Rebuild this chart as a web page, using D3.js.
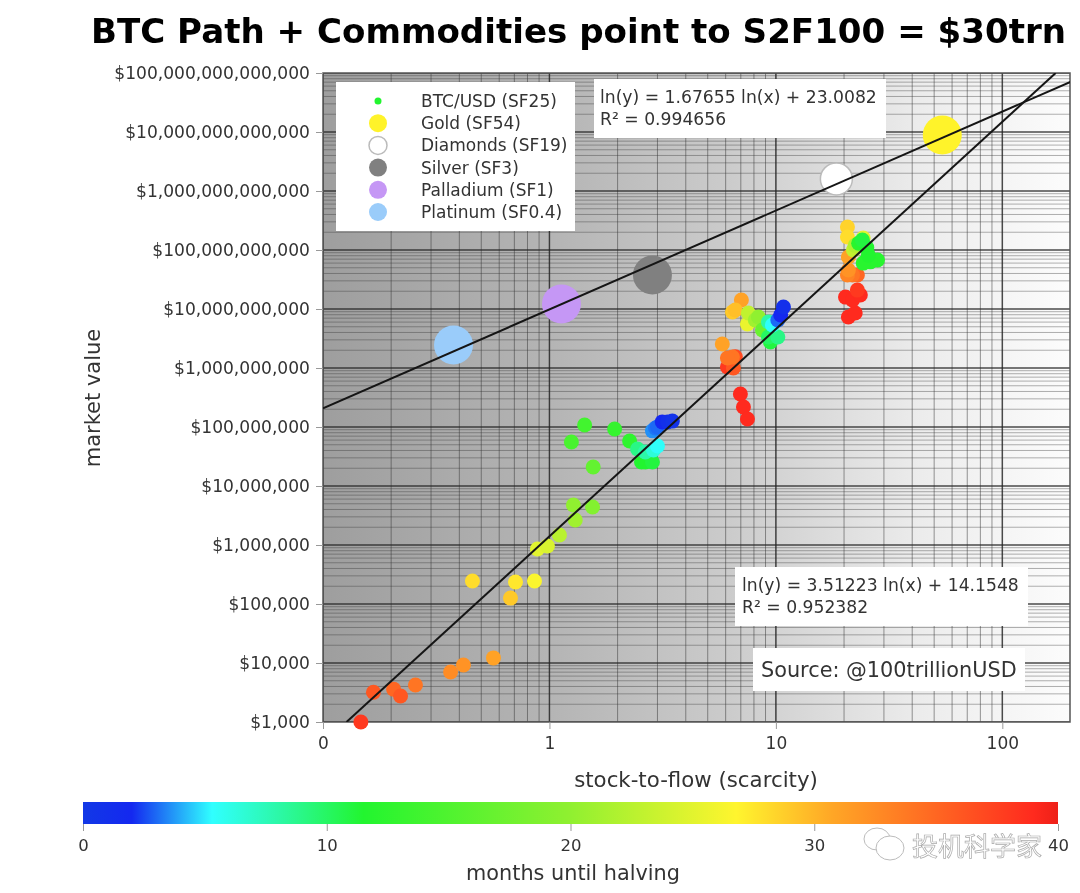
<!DOCTYPE html>
<html>
<head>
<meta charset="utf-8">
<script src="https://cdn.jsdelivr.net/npm/d3@7"></script>
<style>
  html, body { margin: 0; padding: 0; background: #fff; }
  text { font-family: "DejaVu Sans", sans-serif; fill: #333; }
</style>
</head>
<body>
<script>
// BTC points, oldest first (three halving eras)
var btcSf = [0.147, 0.167, 0.205, 0.22, 0.256, 0.366, 0.417, 0.566, 0.457, 0.673, 0.708, 0.859, 0.885, 0.98, 1.107, 1.3, 1.276, 1.55, 1.56, 1.25, 1.43, 1.94, 2.26, 2.55, 2.65, 2.85, 2.45, 2.65, 2.88, 3.0, 2.85, 2.94, 3.0, 3.15, 3.32, 3.49,
  6.97, 7.19, 7.49, 6.11, 6.62, 6.49, 6.43, 6.11, 5.8, 7.04, 6.43, 6.62, 7.49, 7.56, 8.11, 8.37, 8.72, 9.46, 9.27, 10.2, 9.27, 9.65, 10.2, 10.5, 10.8,
  20.9, 22.4, 20.3, 21.8, 23.6, 22.9, 22.9, 21.8, 20.7, 20.9, 20.9, 20.7, 20.7, 24.3, 22, 22.4, 28.1, 26.1, 24.3, 25.6, 25.2, 23.2, 24.1];
var btcValue = [1000, 3200, 3600, 2760, 4240, 7030, 9250, 12200, 245000, 126000, 236000, 245000, 855000, 962000, 1.48e6, 2.65e6, 4.77e6, 4.4e6, 2.1e7, 5.57e7, 1.08e8, 9.25e7, 5.8e7, 2.55e7, 2.55e7, 2.55e7, 4.24e7, 3.77e7, 4.07e7, 4.77e7, 8.6e7, 9.6e7, 1.0e8, 1.22e8, 1.22e8, 1.26e8,
  3.62e8, 2.18e8, 1.37e8, 1.04e9, 1.55e9, 1.0e9, 1.53e9, 1.48e9, 2.55e9, 1.42e10, 8.9e9, 9.6e9, 5.57e9, 8.55e9, 6.5e9, 7.3e9, 4.4e9, 2.76e9, 3.35e9, 3.35e9, 6.03e9, 5.36e9, 6.5e9, 7.9e9, 1.08e10,
  7.3e9, 8.55e9, 1.59e10, 1.42e10, 1.73e10, 2.09e10, 3.77e10, 3.77e10, 3.77e10, 4.57e10, 7.6e10, 2.45e11, 1.66e11, 1.59e11, 1.0e11, 1.2e11, 6.76e10, 6.3e10, 6e10, 8.2e10, 1.1e11, 1.3e11, 1.48e11];
var btcMonths = [38, 36, 35, 36, 34, 32.5, 32, 31, 28, 29, 27.5, 26.5, 25, 24.5, 22.5, 21, 20, 19, 16.5, 14.5, 14, 13, 12.5, 11.5, 11.5, 11, 9, 8, 6.5, 5.5, 3.6, 3.2, 3, 2, 1, 0.5,
  39, 39, 39, 38, 37, 36, 34, 34, 31, 31, 29, 29.5, 25.5, 23, 21, 20, 17, 11, 10, 9, 8, 5.5, 3, 2, 1,
  39, 39, 39, 39, 39, 38, 35, 34, 33, 32, 31, 28.5, 28, 25, 23, 22, 12, 12, 12, 11.5, 11.5, 12, 11];

var assetNames = ["Gold (SF54)", "Diamonds (SF19)", "Silver (SF3)", "Palladium (SF1)", "Platinum (SF0.4)"];
var assetSf = [54.3, 18.5, 2.85, 1.13, 0.377];
var assetValue = [8.9e12, 1.6e12, 3.77e10, 1.22e10, 2.45e9];
var assetColors = ["#fff32a", "#ffffff", "#808080", "#c597f5", "#9accfa"];

// fitted lines, end points worked out from the printed equations
var fitAssetsSf = [0.1, 200];
var fitAssetsValue = [2.07e8, 7.08e13];
var fitBtcSf = [0.127, 172];
var fitBtcValue = [1e3, 1e14];

var xTicks = [0.1, 1, 10, 100];
var xTickLabels = ["0", "1", "10", "100"];
var yTicks = [1e3, 1e4, 1e5, 1e6, 1e7, 1e8, 1e9, 1e10, 1e11, 1e12, 1e13, 1e14];
var barTicks = [0, 10, 20, 30, 40];
var barStops = [0, 2, 5.3, 8, 11.5, 20, 26.8, 30.7, 39, 40];
var barColors = ["#1238e6", "#1428f0", "#30ffff", "#2cf8a8", "#22f52f", "#90f030", "#fff52e", "#ffa726", "#ff2a1e", "#ee2018"];

var svg = d3.select("body").append("svg")
    .attr("width", 1080)
    .attr("height", 893)
    .style("display", "block")
    .style("filter", "blur(0.5px)");

var x = d3.scaleLog().domain([0.1, 199]).range([323, 1070]);
var y = d3.scaleLog().domain([1e3, 1e14]).range([722, 73]);
var color = d3.scaleLinear().domain(barStops).range(barColors);
var barX = d3.scaleLinear().domain([0, 40]).range([83, 1058]);

var defs = svg.append("defs");

var bg = defs.append("linearGradient").attr("id", "bg");
bg.selectAll("stop")
    .data([[0, "#9e9e9e"], [0.3, "#b4b4b4"], [0.55, "#cccccc"], [0.8, "#ececec"], [1, "#fcfcfc"]])
  .join("stop")
    .attr("offset", d => d[0])
    .attr("stop-color", d => d[1]);

var barGrad = defs.append("linearGradient").attr("id", "bar");
barGrad.selectAll("stop")
    .data(barStops)
  .join("stop")
    .attr("offset", d => d / 40)
    .attr("stop-color", d => color(d));

defs.append("clipPath").attr("id", "plot").append("rect")
    .attr("x", 323).attr("y", 73).attr("width", 747).attr("height", 649);

// title
svg.append("text")
    .attr("x", 91).attr("y", 43)
    .style("font-size", "34.1px")
    .style("font-weight", "bold")
    .style("fill", "#000")
    .text("BTC Path + Commodities point to S2F100 = $30trn");

// plot background + grid
svg.append("rect")
    .attr("x", 323).attr("y", 73).attr("width", 747).attr("height", 649)
    .attr("fill", "url(#bg)");

var grid = svg.append("g").attr("clip-path", "url(#plot)");

grid.selectAll(".vminor")
    .data(x.ticks(40))
  .join("line")
    .attr("x1", d => x(d)).attr("x2", d => x(d))
    .attr("y1", 73).attr("y2", 722)
    .attr("stroke", "#333")
    .attr("stroke-opacity", 0.5)
    .attr("stroke-width", 1);

grid.selectAll(".hminor")
    .data(y.ticks(120))
  .join("line")
    .attr("y1", d => y(d)).attr("y2", d => y(d))
    .attr("x1", 323).attr("x2", 1070)
    .attr("stroke", "#333")
    .attr("stroke-opacity", 0.38)
    .attr("stroke-width", 1);

grid.selectAll(".hmajor")
    .data(yTicks)
  .join("line")
    .attr("y1", d => y(d)).attr("y2", d => y(d))
    .attr("x1", 323).attr("x2", 1070)
    .attr("stroke", "#222")
    .attr("stroke-opacity", 0.7)
    .attr("stroke-width", 1.5);

grid.selectAll(".vmajor")
    .data(xTicks)
  .join("line")
    .attr("x1", d => x(d)).attr("x2", d => x(d))
    .attr("y1", 73).attr("y2", 722)
    .attr("stroke", "#222")
    .attr("stroke-opacity", 0.7)
    .attr("stroke-width", 1.5);

// frame
svg.append("rect")
    .attr("x", 323).attr("y", 73).attr("width", 747).attr("height", 649)
    .attr("fill", "none")
    .attr("stroke", "#555")
    .attr("stroke-width", 1.5);

// commodities sit under the fit lines, the lowest BTC dot hangs over the frame
var marks = svg.append("g");

marks.selectAll(".asset")
    .data(assetSf)
  .join("circle")
    .attr("cx", d => x(d))
    .attr("cy", (d, i) => y(assetValue[i]))
    .attr("r", (d, i) => i == 1 ? 16 : 19.5)
    .attr("fill", (d, i) => assetColors[i])
    .attr("stroke", (d, i) => i == 1 ? "#bbb" : "none")
    .attr("stroke-width", 1.5);

marks.selectAll(".btc")
    .data(btcSf)
  .join("circle")
    .attr("cx", d => x(d))
    .attr("cy", (d, i) => y(btcValue[i]))
    .attr("r", 7.5)
    .attr("fill", (d, i) => color(btcMonths[i]));

var fits = svg.append("g").attr("clip-path", "url(#plot)");
var fitLine = d3.line().x(d => x(d[0])).y(d => y(d[1]));

fits.append("path")
    .attr("d", fitLine(d3.zip(fitAssetsSf, fitAssetsValue)))
    .attr("fill", "none")
    .attr("stroke", "#151515")
    .attr("stroke-width", 2);

fits.append("path")
    .attr("d", fitLine(d3.zip(fitBtcSf, fitBtcValue)))
    .attr("fill", "none")
    .attr("stroke", "#151515")
    .attr("stroke-width", 2);

// axes
var xAxis = svg.append("g")
    .attr("transform", "translate(0,722)")
    .call(d3.axisBottom(x).tickValues(xTicks).tickSize(7).tickPadding(8)
      .tickFormat((d, i) => xTickLabels[i]));
xAxis.select(".domain").remove();
xAxis.selectAll("line").attr("stroke", "#999");
xAxis.selectAll("text").style("font-size", "17px");

var yAxis = svg.append("g")
    .attr("transform", "translate(323,0)")
    .call(d3.axisLeft(y).tickValues(yTicks).tickSize(7).tickPadding(6)
      .tickFormat(d3.format("$,.0f")));
yAxis.select(".domain").remove();
yAxis.selectAll("line").attr("stroke", "#999");
yAxis.selectAll("text").style("font-size", "17.1px");

svg.append("text")
    .attr("x", 696).attr("y", 787)
    .attr("text-anchor", "middle")
    .style("font-size", "21.3px")
    .text("stock-to-flow (scarcity)");

svg.append("text")
    .attr("transform", "translate(100,398) rotate(-90)")
    .attr("text-anchor", "middle")
    .style("font-size", "21px")
    .text("market value");

// legend
svg.append("rect")
    .attr("x", 336).attr("y", 82).attr("width", 239).attr("height", 149)
    .attr("fill", "#fff");

var legendNames = ["BTC/USD (SF25)"].concat(assetNames);
var legendY = d3.scalePoint().domain(d3.range(6)).range([101, 212]);

svg.selectAll(".legend-text")
    .data(legendNames)
  .join("text")
    .attr("x", 421)
    .attr("y", (d, i) => legendY(i) + 6)
    .style("font-size", "17px")
    .text(d => d);

svg.selectAll(".legend-mark")
    .data(legendNames)
  .join("circle")
    .attr("cx", 378)
    .attr("cy", (d, i) => legendY(i))
    .attr("r", (d, i) => i == 0 ? 3.5 : 9)
    .attr("fill", (d, i) => i == 0 ? color(11.5) : assetColors[i - 1])
    .attr("stroke", (d, i) => i == 2 ? "#bbb" : "none")
    .attr("stroke-width", 1.5);

// equation + source boxes
function noteBox(bx, by, bw, bh, lines, size, pad) {
  svg.append("rect")
      .attr("x", bx).attr("y", by).attr("width", bw).attr("height", bh)
      .attr("fill", "#fff");
  lines.forEach(function(t) {
    svg.append("text")
        .attr("x", bx + pad).attr("y", t[1])
        .style("font-size", size)
        .text(t[0]);
  });
}

noteBox(594, 79, 292, 59, [["ln(y) = 1.67655 ln(x) + 23.0082", 103], ["R² = 0.994656", 125]], "17.2px", 6);
noteBox(735, 567, 293, 59, [["ln(y) = 3.51223 ln(x) + 14.1548", 591], ["R² = 0.952382", 613]], "17.2px", 7);
noteBox(753, 648, 272, 43, [["Source: @100trillionUSD", 677]], "20.8px", 8);

// colour bar
svg.append("rect")
    .attr("x", 83).attr("y", 802).attr("width", 975).attr("height", 22)
    .attr("fill", "url(#bar)");

var barAxis = svg.append("g")
    .attr("transform", "translate(0,824)")
    .call(d3.axisBottom(barX).tickValues(barTicks).tickSize(7).tickPadding(8));
barAxis.select(".domain").remove();
barAxis.selectAll("line").attr("stroke", "#999");
barAxis.selectAll("text").style("font-size", "16.5px");

svg.append("text")
    .attr("x", 573).attr("y", 880)
    .attr("text-anchor", "middle")
    .style("font-size", "20.8px")
    .text("months until halving");

// watermark
var mark = svg.append("g")
    .attr("fill", "none")
    .attr("stroke", "#bbb")
    .attr("stroke-width", 1);
mark.append("ellipse").attr("cx", 877).attr("cy", 839).attr("rx", 13).attr("ry", 11);
mark.append("ellipse").attr("cx", 890).attr("cy", 848).attr("rx", 14).attr("ry", 12).attr("fill", "#fff");

svg.append("text")
    .attr("x", 912).attr("y", 856)
    .style("font-family", "'Noto Sans CJK SC'")
    .style("font-size", "26px")
    .style("fill", "#fff")
    .style("stroke", "#aaa")
    .style("stroke-width", 0.7)
    .text("投机科学家");
</script>
</body>
</html>
